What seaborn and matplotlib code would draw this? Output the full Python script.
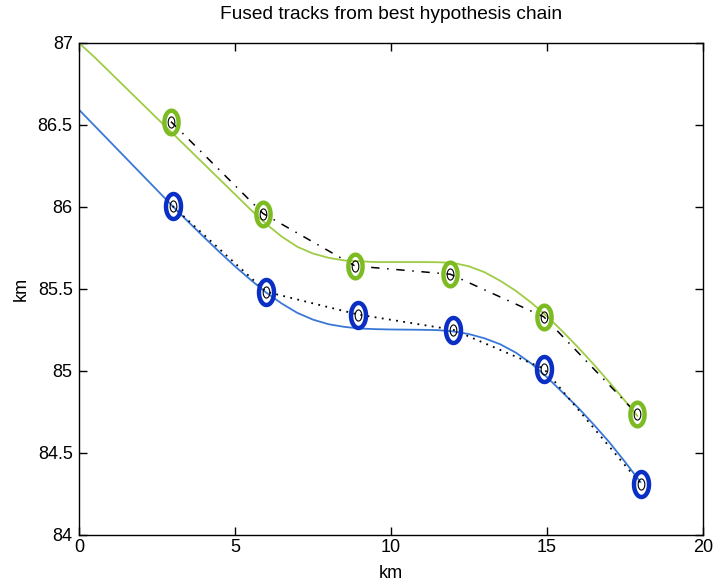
import numpy as np
import matplotlib
matplotlib.use("Agg")
import matplotlib.pyplot as plt
from matplotlib.path import Path
import seaborn as sns

# Smoothed fused tracks (km)
green_x = [0.0, 0.5, 1.0, 1.5, 2.0, 2.5, 3.0, 3.5, 4.0, 4.5, 5.0, 5.5, 6.0, 6.5,
           7.0, 7.5, 8.0, 8.5, 9.0, 9.5, 10.0, 10.5, 11.0, 11.5, 12.0, 12.5,
           13.0, 13.5, 14.0, 14.5, 15.0, 15.5, 16.0, 16.5, 17.0, 17.5, 17.9]
green_y = [87.000, 86.913, 86.820, 86.727, 86.634, 86.541, 86.449, 86.356,
           86.263, 86.170, 86.077, 85.984, 85.896, 85.819, 85.757, 85.716,
           85.690, 85.674, 85.669, 85.664, 85.664, 85.664, 85.664, 85.663,
           85.659, 85.638, 85.602, 85.550, 85.489, 85.416, 85.334, 85.241,
           85.143, 85.040, 84.931, 84.818, 84.725]

blue_x = [0.0, 0.5, 1.0, 1.5, 2.0, 2.5, 3.0, 3.5, 4.0, 4.5, 5.0, 5.5, 6.0, 6.5,
          7.0, 7.5, 8.0, 8.5, 9.0, 9.5, 10.0, 10.5, 11.0, 11.5, 12.0, 12.5,
          13.0, 13.5, 14.0, 14.5, 15.0, 15.5, 16.0, 16.5, 17.0, 17.5, 18.0]
blue_y = [86.593, 86.495, 86.397, 86.299, 86.201, 86.103, 86.005, 85.910,
          85.817, 85.726, 85.638, 85.556, 85.478, 85.411, 85.354, 85.313,
          85.285, 85.269, 85.259, 85.255, 85.253, 85.252, 85.251, 85.249,
          85.241, 85.225, 85.199, 85.163, 85.112, 85.045, 84.962, 84.869,
          84.776, 84.673, 84.565, 84.446, 84.322]

# Hypothesis-chain measurements
green_meas_x = [2.95, 5.9, 8.85, 11.9, 14.9, 17.9]
green_meas_y = [86.52, 85.96, 85.64, 85.59, 85.33, 84.735]
blue_meas_x = [3.0, 6.0, 8.95, 12.0, 14.9, 18.0]
blue_meas_y = [86.005, 85.483, 85.344, 85.251, 85.014, 84.312]

x_ticks = [0, 5, 10, 15, 20]
y_ticks = [84, 84.5, 85, 85.5, 86, 86.5, 87]

sns.set_theme(style="white")
plt.rcParams["font.family"] = ["Liberation Sans", "DejaVu Sans"]

fig = plt.figure(figsize=(7.16, 5.82), dpi=100)
ax = fig.add_axes([0.1103, 0.0808, 0.8715, 0.8454])

GREEN_LINE = "#9fcc45"
GREEN_ELL = "#7dbb22"
BLUE_LINE = "#3a78d8"
BLUE_ELL = "#0a2fc4"

# vertical ellipse marker
t = np.linspace(0, 2 * np.pi, 60)
ell = Path(np.column_stack([0.6 * np.cos(t), np.sin(t)]), closed=True)

sns.lineplot(x=green_x, y=green_y, ax=ax, color=GREEN_LINE, lw=1.3,
             sort=False, estimator=None)
sns.lineplot(x=blue_x, y=blue_y, ax=ax, color=BLUE_LINE, lw=1.3,
             sort=False, estimator=None)

sns.lineplot(x=green_meas_x, y=green_meas_y, ax=ax, color="black", lw=1.1,
             sort=False, estimator=None, linestyle=(0, (5.5, 5, 1, 5)))
sns.lineplot(x=blue_meas_x, y=blue_meas_y, ax=ax, color="black", lw=1.3,
             sort=False, estimator=None, linestyle=(0, (1, 3)))

for mx, my, col, ms in [(green_meas_x, green_meas_y, GREEN_ELL, 17),
                        (blue_meas_x, blue_meas_y, BLUE_ELL, 18)]:
    ax.plot(mx, my, linestyle="none", marker=ell, markersize=ms,
            markerfacecolor="none", markeredgecolor=col, markeredgewidth=3.2)
    ax.plot(mx, my, linestyle="none", marker=ell, markersize=8,
            markerfacecolor="none", markeredgecolor="black", markeredgewidth=0.8)

ax.set_xlim(0, 20)
ax.set_ylim(84, 87)
ax.set_xticks(x_ticks)
ax.set_yticks(y_ticks)
ax.set_xticklabels([str(v) for v in x_ticks])
ax.set_yticklabels([f"{v:g}" for v in y_ticks])

for s in ax.spines.values():
    s.set_color("black")
    s.set_linewidth(1.0)
ax.tick_params(direction="in", length=6, width=1.0, color="black",
               top=True, right=True, bottom=True, left=True, labelsize=13,
               labelcolor="black")
ax.tick_params(axis="x", pad=3)
ax.tick_params(axis="y", pad=4.5)

ax.set_xlabel("km", fontsize=13, color="black", va="baseline")
ax.xaxis.set_label_coords(0.5, -0.087)
ax.set_ylabel("km", fontsize=13, labelpad=6, color="black")
ax.set_title("Fused tracks from best hypothesis chain", fontsize=13.8, pad=17,
             color="black")

fig.savefig("out.png", dpi=100, facecolor="white")
